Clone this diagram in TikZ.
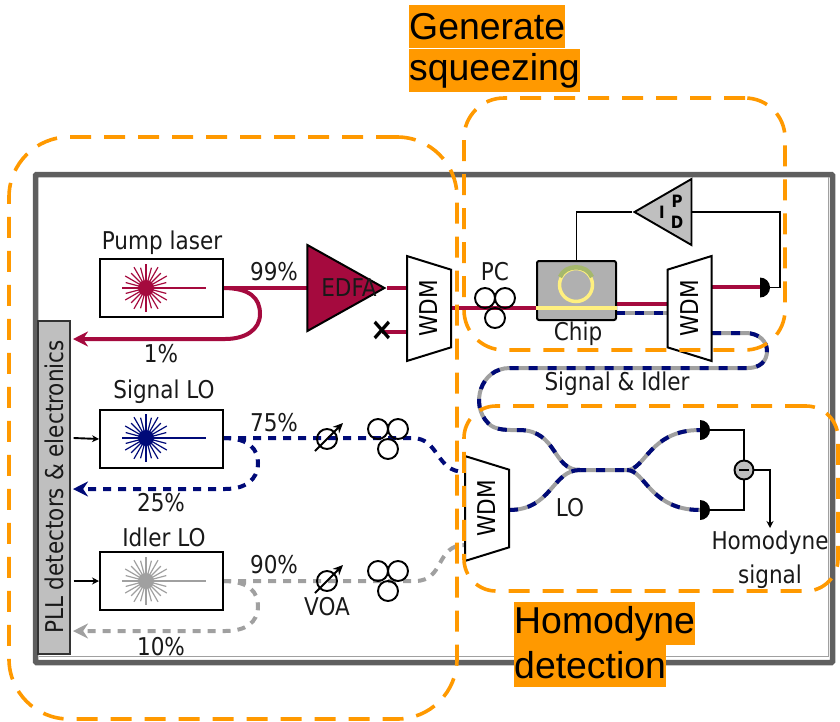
\documentclass[tikz,border=0pt]{standalone}
\usepackage{fontspec}
\setmainfont{Liberation Sans}
\newfontfamily\labelfont[FakeStretch=0.88]{DejaVu Sans}
\usetikzlibrary{shapes.geometric, arrows.meta}

\definecolor{pumpred}{HTML}{A50A3E}
\definecolor{signalblue}{HTML}{000A78}
\definecolor{idlergray}{HTML}{A0A0A0}
\definecolor{framegray}{HTML}{5F5F5F}
\definecolor{boxorange}{HTML}{FF9900}
\definecolor{chipgray}{HTML}{B0B0B0}
\definecolor{ringyellow}{HTML}{FFF07F}
\definecolor{ringgreen}{HTML}{A5B86C}

\begin{document}
\begin{tikzpicture}[
    x=1pt, y=-1pt,
    % Node styles
    lbl/.style={
        font=\labelfont\fontsize{24.5}{28}\selectfont, inner sep=0pt, align=center, text=black!90
    },
    heading/.style={
        fill=boxorange, anchor=west, inner xsep=0pt, inner ysep=0pt, minimum height=43,
        font=\fontsize{37.4}{44}\selectfont, text=black
    },
    laserbox/.style={
        rectangle, draw=black, line width=2pt, minimum width=123, minimum height=58
    },
    wdm/.style={
        trapezium, draw=black, line width=2pt, fill=white, trapezium stretches=true,
        trapezium left angle=61, trapezium right angle=61, minimum width=105, minimum height=44,
        inner sep=0pt, rotate=90, font=\labelfont\fontsize{24.5}{28}\selectfont
    },
    detector/.style={
        semicircle, fill=black, shape border rotate=270, anchor=chord center,
        minimum width=20, inner sep=0pt, outer sep=0pt
    },
    orangebox/.style={
        rectangle, draw=boxorange, line width=3.6pt, dash pattern=on 21 off 13
    },
    % Line styles
    pump/.style={pumpred, line width=4pt},
    signal/.style={signalblue, line width=4pt, dash pattern=on 8 off 7},
    idler/.style={idlergray, line width=4pt, dash pattern=on 8 off 7},
    sigidler/.style={
        idlergray, line width=4pt,
        postaction={draw=signalblue, dash pattern=on 9 off 10}
    },
    wire/.style={black, line width=1.9pt},
    tip/.style={-{Stealth[length=15pt, width=15pt]}},
    smalltip/.style={-{Stealth[length=7pt, width=7pt]}},
    % Pics
    pics/laserstar/.style={code={
        \foreach \ang in {0,30,...,330} {
            \draw[#1, line width=1.2pt] (0,0) -- (\ang:24pt);
            \draw[#1, line width=1.2pt] (0,0) -- (\ang+15:21pt);
        }
        \fill[#1] (0,0) circle (8pt);
        \draw[#1, line width=1.6pt] (0,0) -- (60,0);
    }},
    pics/paddles/.style={code={
        \draw[black, line width=1.9pt] (-10,0) circle (10pt);
        \draw[black, line width=1.9pt] (10,0) circle (10pt);
        \draw[black, line width=1.9pt] (0,20) circle (10pt);
    }},
    pics/attenuator/.style={code={
        \draw[black, line width=1.9pt] (0,0) circle (10pt);
        \draw[black, line width=1.9pt, -{Stealth[length=10pt, width=9pt]}] (-12,12) -- (16,-16);
    }}
]
\useasboundingbox (0,0) rectangle (840,721);

% --- Frame ---
\node[rectangle, draw=framegray, line width=5.5pt, rounded corners=1pt, minimum width=797, minimum height=488,
    outer sep=0pt] (frame) at (434,418.5) {};
\draw[idlergray, line width=1.5pt] (frame.south west) ++(3,-6) -- ++(790,0) -- ++(0,-480);

% --- Coordinates for the fibres ---
\coordinate (pumpout) at (223,288);
\coordinate (pumpend) at (73,339);
\coordinate (sigout) at (223,438);
\coordinate (sigend) at (73,489);
\coordinate (idlout) at (223,581);
\coordinate (idlend) at (73,631);
\coordinate (wdmApump) at (407,288);
\coordinate (wdmAcut) at (407,332);
\coordinate (wdmAout) at (451,308);
\coordinate (chipin) at (537,308);
\coordinate (chipout) at (616,304);
\coordinate (chipsi) at (616,313);
\coordinate (wdmBin) at (667,304);
\coordinate (wdmBsi) at (667,313);
\coordinate (wdmBpump) at (712,287);
\coordinate (wdmBsiout) at (712,333);
\coordinate (wdmCsig) at (465,472);
\coordinate (wdmCidl) at (465,545);
\coordinate (wdmCout) at (509,510);
\coordinate (joinL) at (580,470);
\coordinate (joinR) at (627,470);

% --- Fibres ---
\draw[pump] (pumpout) -- (308,288);
\draw[pump, tip] (pumpout) .. controls (250,288) and (260,298) .. (260,314)
    .. controls (260,330) and (245,339) .. (225,339) -- (pumpend);
\draw[pump] (387,288) -- (wdmApump);
\draw[pump] (wdmAcut) -- (382,332);
\draw[pump] (wdmAout) -- (chipin);
\draw[pump] (chipout) -- (wdmBin);
\draw[sigidler] (chipsi) -- (wdmBsi);
\draw[signal] (sigout) -- (412,438) .. controls (440,438) and (435,472) .. (wdmCsig);
\draw[signal, tip] (sigout) .. controls (250,438) and (258,450) .. (258,463)
    .. controls (258,480) and (245,489) .. (225,489) -- (sigend);
\draw[idler] (idlout) -- (415,581) .. controls (445,581) and (435,545) .. (wdmCidl);
\draw[idler, tip] (idlout) .. controls (250,581) and (258,593) .. (258,606)
    .. controls (258,623) and (245,631) .. (225,631) -- (idlend);
\draw[pump] (wdmBpump) -- (762,287);
\draw[sigidler] (wdmBsiout) -- (745,333) .. controls (760,333) and (767,342) .. (767,351)
    .. controls (767,361) and (760,368) .. (748,368) -- (510,368)
    .. controls (480,368) and (470,405) .. (488,423)
    .. controls (495,431) and (510,430) .. (520,430)
    .. controls (558,431) and (552,470) .. (joinL) -- (joinR)
    .. controls (645,470) and (650,430) .. (700,430);
\draw[sigidler] (wdmCout) .. controls (552,510) and (552,470) .. (joinL);
\draw[sigidler] (joinR) .. controls (645,470) and (650,510) .. (700,510);

% --- Nodes ---
\node[laserbox] (pumplaser) at (161.5,288) {};
\node[laserbox] (signallaser) at (161.5,439) {};
\node[laserbox] (idlerlaser) at (161.5,581) {};
\pic at (146,288) {laserstar=pumpred};
\pic at (146,438) {laserstar=signalblue};
\pic at (146,581) {laserstar=idlergray};

\node[rectangle, draw=black!80, line width=1.2pt, fill=black!25, minimum width=32, minimum height=333,
    inner sep=0pt] (pll) at (54,487.5) {};
\node[lbl, rotate=90] (plllabel) at (54,487) {PLL detectors \& electronics};

\node[isosceles triangle, isosceles triangle stretches=true, draw=black, line width=2pt, fill=pumpred,
    minimum width=86, minimum height=77, anchor=apex, inner sep=0pt] (edfa) at (387,288) {};
\node[lbl] (edfalabel) at (349,288) {EDFA};

\node[wdm, shape border rotate=180] (wdmA) at (429,308.5) {WDM};
\node[wdm] (wdmB) at (689.5,308.5) {WDM};
\node[wdm, shape border rotate=180] (wdmC) at (487,508.5) {WDM};

% Chip
\node[rectangle, draw=black, line width=2pt, fill=chipgray, rounded corners=2pt, minimum width=79,
    minimum height=59] (chip) at (576.5,290.5) {};
\draw[ringyellow, line width=4pt] (chip.west |- chipin) -- (chip.east |- chipin);
\node[circle, draw=ringyellow, line width=3.5pt, minimum size=33, inner sep=0pt] (ring) at (576,285) {};
\draw[ringgreen, line width=4.5pt] (592,277) .. controls (587,264) and (565,264) .. (560,277);

% Servo
\node[isosceles triangle, isosceles triangle stretches=true, draw=black, line width=1.9pt, fill=black!25,
    shape border rotate=180, minimum width=66, minimum height=57, anchor=apex, inner sep=0pt] (pid) at (632,212) {};
\node[font=\labelfont\bfseries\fontsize{17}{20}\selectfont, inner sep=0pt] (pidI) at (662,212) {I};
\node[font=\labelfont\bfseries\fontsize{17}{20}\selectfont, inner sep=0pt] (pidP) at (677,201) {P};
\node[font=\labelfont\bfseries\fontsize{17}{20}\selectfont, inner sep=0pt] (pidD) at (677,222) {D};
\node[detector] (detpump) at (760,287.5) {};
\draw[wire] (chip.north) -- (chip.north |- pid.apex) -- (pid.apex);
\draw[wire] (691,212) -- (780,212) -- (780,287.5) -- (detpump.chord center);

% Blocked port
\node[font=\labelfont\bfseries\fontsize{32}{32}\selectfont, inner sep=0pt] (cut) at (382,331) {×};

% Homodyne receiver
\node[detector] (dettop) at (700,430) {};
\node[detector] (detbot) at (700,510) {};
\node[circle, draw=black, line width=1.9pt, fill=black!25, minimum size=19, inner sep=0pt] (diff) at (744,470) {};
\draw[black, line width=2pt] (739,470) -- (749,470);
\draw[wire] (dettop.chord center) -- (744,430) -- (diff);
\draw[wire] (detbot.chord center) -- (744,510) -- (diff);
\coordinate (homout) at (770,528);
\draw[wire, smalltip] (diff) -- (770,470) -- (homout);

% Feed lines and paddles
\draw[wire, smalltip] (pll.east |- sigout) ++(3,0) -- (signallaser.west);
\draw[wire, smalltip] (pll.east |- idlout) ++(3,0) -- (idlerlaser.west);
\pic at (495,298) {paddles};
\pic at (388,429) {paddles};
\pic at (388,571) {paddles};
\pic at (327,439) {attenuator};
\pic at (327,581) {attenuator};

% --- Labels ---
\node[lbl] (pumplabel) at (162,243) {Pump laser};
\node[lbl] (signallabel) at (164,392) {Signal LO};
\node[lbl] (idlerlabel) at (164,537) {Idler LO};
\node[lbl] (pumpa) at (274,272) {99\%};
\node[lbl] (pumpb) at (161,354) {1\%};
\node[lbl] (signala) at (274,423) {75\%};
\node[lbl] (signalb) at (161,503) {25\%};
\node[lbl] (idlera) at (274,565) {90\%};
\node[lbl] (idlerb) at (161,647) {10\%};
\node[lbl] (voa) at (327,607) {VOA};
\node[lbl] (pclabel) at (495,272) {PC};
\node[lbl] (chiplabel) at (578,334) {Chip};
\node[lbl] (silabel) at (617,384) {Signal \& Idler};
\node[lbl] (lolabel) at (570,508) {LO};
\node[lbl] (homlabel) at (770,543) {Homodyne};
\node[lbl] (homlabelb) at (770,577) {signal};

% --- Orange boxes and headings ---
\node[orangebox, rounded corners=60pt, minimum width=448, minimum height=582] (classical) at (233,428) {};
\node[orangebox, rounded corners=40pt, minimum width=321, minimum height=252] (squeezebox) at (624.5,224) {};
\node[orangebox, rounded corners=32pt, minimum width=374, minimum height=185] (homodynebox) at (651,498.5) {};
\node[heading] (geninga) at (409,26.5) {Generate};
\node[heading] (gengb) at (409,70.5) {squeezing};
\node[heading] (homa) at (514,623.5) {Homodyne};
\node[heading] (homb) at (514,665.5) {detection};

\end{tikzpicture}
\end{document}
